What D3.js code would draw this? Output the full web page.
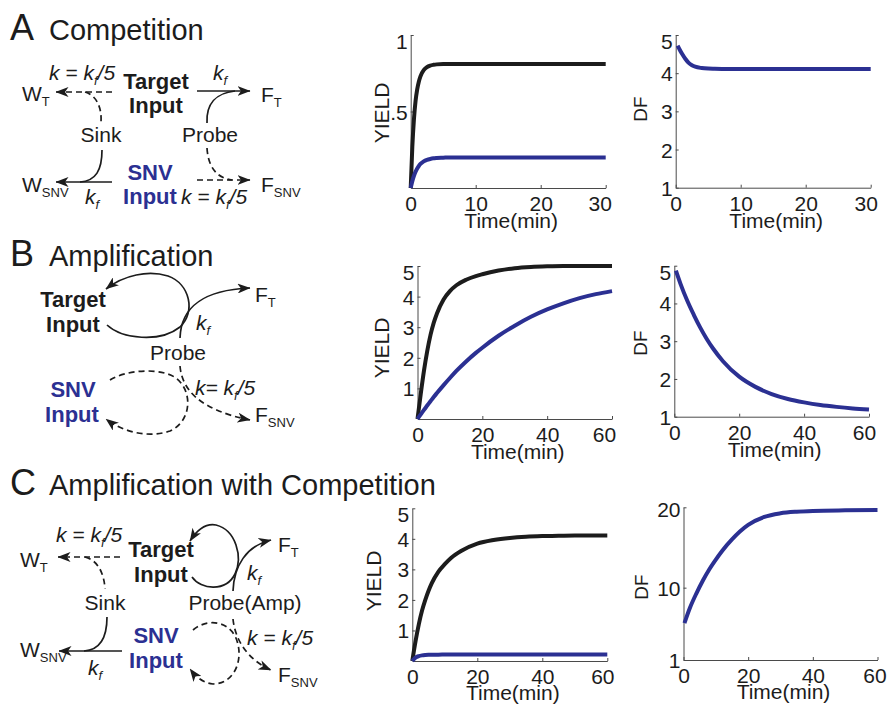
<!DOCTYPE html>
<html>
<head>
<meta charset="utf-8">
<script src="https://cdn.jsdelivr.net/npm/d3@7"></script>
<style>
  html, body { margin: 0; padding: 0; background: #fff; }
  svg { display: block; font-family: "Liberation Sans", Arial, Helvetica, sans-serif; }
</style>
</head>
<body>
<svg id="fig" width="890" height="704"></svg>
<script>
// ---------------- data ----------------
// A: competition (0-30 min)
const timeCompetition = [0, 0.25, 0.5, 0.75, 1, 1.25, 1.5, 2, 2.5, 3, 3.5, 4, 5, 6, 8, 10, 15, 20, 25, 30];
const yieldTargetCompetition = [0, 0.27, 0.45, 0.57, 0.645, 0.695, 0.73, 0.77, 0.79, 0.80, 0.805, 0.808, 0.81, 0.81, 0.81, 0.81, 0.81, 0.81, 0.81, 0.81];
const yieldSnvCompetition = [0, 0.045, 0.08, 0.107, 0.128, 0.144, 0.157, 0.174, 0.184, 0.19, 0.194, 0.196, 0.198, 0.2, 0.2, 0.2, 0.2, 0.2, 0.2, 0.2];
const timeDfCompetition = [0.3, 0.6, 1, 1.5, 2, 2.5, 3, 4, 5, 6, 8, 10, 15, 20, 25, 30];
const dfCompetition = [4.72, 4.62, 4.5, 4.37, 4.27, 4.21, 4.17, 4.135, 4.12, 4.115, 4.11, 4.11, 4.11, 4.11, 4.11, 4.11];

// B: amplification (0-60 min)
const timeAmplification = [0, 1, 2, 3, 4, 5, 6, 8, 10, 12, 15, 18, 20, 25, 30, 35, 40, 45, 50, 55, 60];
const yieldTargetAmplification = [0, 0.82, 1.58, 2.22, 2.74, 3.14, 3.45, 3.9, 4.18, 4.37, 4.55, 4.67, 4.73, 4.85, 4.93, 4.97, 4.99, 5.0, 5.0, 5.0, 5.0];
const yieldSnvAmplification = [0, 0.15, 0.3, 0.44, 0.58, 0.72, 0.85, 1.1, 1.34, 1.57, 1.88, 2.16, 2.33, 2.72, 3.05, 3.34, 3.58, 3.78, 3.95, 4.08, 4.18];
const timeDfAmplification = [0.5, 2, 4, 6, 8, 10, 12, 15, 20, 25, 30, 35, 40, 45, 50, 55, 60];
const dfAmplification = [4.87, 4.5, 4.07, 3.7, 3.36, 3.06, 2.8, 2.47, 2.06, 1.79, 1.6, 1.47, 1.38, 1.31, 1.26, 1.22, 1.19];

// C: amplification with competition (0-60 min)
const timeAmpCompetition = [0, 0.5, 1, 2, 3, 4, 5, 6, 8, 10, 12, 15, 20, 25, 30, 35, 40, 45, 50, 55, 60];
const yieldTargetAmpCompetition = [0, 0.34, 0.65, 1.2, 1.65, 2.0, 2.3, 2.55, 2.92, 3.17, 3.38, 3.6, 3.84, 3.96, 4.03, 4.07, 4.09, 4.1, 4.11, 4.11, 4.11];
const yieldSnvAmpCompetition = [0, 0.06, 0.11, 0.16, 0.185, 0.197, 0.203, 0.206, 0.208, 0.21, 0.21, 0.21, 0.21, 0.21, 0.21, 0.21, 0.21, 0.21, 0.21, 0.21, 0.21];
const timeDfAmpCompetition = [0.3, 2, 4, 6, 8, 10, 12, 15, 20, 25, 30, 35, 40, 50, 60];
const dfAmpCompetition = [5.6, 7.5, 9.3, 10.9, 12.3, 13.5, 14.6, 16.0, 17.8, 18.8, 19.25, 19.45, 19.55, 19.62, 19.65];

// axis ticks and labels
const timeTicks30 = [0, 10, 20, 30];
const timeTicks60 = [0, 20, 40, 60];
const yieldTicksCompetition = [0.5, 1];
const yieldTickLabelsCompetition = [".5", "1"];
const yieldTicks5 = [1, 2, 3, 4, 5];
const dfTicks5 = [1, 2, 3, 4, 5];
const dfTicksAmpCompetition = [1, 10, 20];

// ---------------- styles ----------------
const INK = "#1c1c1c";
const BLUE = "#2b3092";
const AXIS = "#4a4a4a";

const svg = d3.select("#fig");

// ---------------- plots ----------------
const plots = [
  { left: 410.7, right: 605.7, top: 35, bottom: 188,
    xDomain: [0, 30], yDomain: [0, 1], xTicks: timeTicks30, yTicks: yieldTicksCompetition,
    yFormat: (d, i) => yieldTickLabelsCompetition[i], yLabel: "YIELD", yLabelAt: [389, 113], ySize: 21,
    series: [[timeCompetition, yieldTargetCompetition, INK], [timeCompetition, yieldSnvCompetition, BLUE]],
    topShift: 6, lastShift: -6, titleDy: 40 },
  { left: 675.7, right: 870.7, top: 35, bottom: 187.7,
    xDomain: [0, 30], yDomain: [1, 5], xTicks: timeTicks30, yTicks: dfTicks5,
    yFormat: d3.format("d"), yLabel: "DF", yLabelAt: [647, 109], ySize: 19,
    series: [[timeDfCompetition, dfCompetition, BLUE]],
    topShift: 6, lastShift: -5, titleDy: 40 },
  { left: 417.5, right: 612, top: 266, bottom: 419,
    xDomain: [0, 60], yDomain: [0, 5], xTicks: timeTicks60, yTicks: yieldTicks5,
    yFormat: d3.format("d"), yLabel: "YIELD", yLabelAt: [389, 348], ySize: 21,
    series: [[timeAmplification, yieldTargetAmplification, INK], [timeAmplification, yieldSnvAmplification, BLUE]],
    topShift: 6, lastShift: -8, titleDy: 40 },
  { left: 674.3, right: 869, top: 265.7, bottom: 416.7,
    xDomain: [0, 60], yDomain: [1, 5], xTicks: timeTicks60, yTicks: dfTicks5,
    yFormat: d3.format("d"), yLabel: "DF", yLabelAt: [647, 343], ySize: 19,
    series: [[timeDfAmplification, dfAmplification, BLUE]],
    topShift: 6, lastShift: -5, titleDy: 40 },
  { left: 412.3, right: 607.3, top: 508.3, bottom: 661,
    xDomain: [0, 60], yDomain: [0, 5], xTicks: timeTicks60, yTicks: yieldTicks5,
    yFormat: d3.format("d"), yLabel: "YIELD", yLabelAt: [381, 581], ySize: 21,
    series: [[timeAmpCompetition, yieldTargetAmpCompetition, INK], [timeAmpCompetition, yieldSnvAmpCompetition, BLUE]],
    topShift: 6, lastShift: -5, titleDy: 39 },
  { left: 683.5, right: 877.5, top: 507.3, bottom: 660,
    xDomain: [0, 60], yDomain: [1, 20], xTicks: timeTicks60, yTicks: dfTicksAmpCompetition,
    yFormat: d3.format("d"), yLabel: "DF", yLabelAt: [648, 587], ySize: 19,
    series: [[timeDfAmpCompetition, dfAmpCompetition, BLUE]],
    topShift: 2, lastShift: -3, titleDy: 39 }
];

plots.forEach(p => {
  const x = d3.scaleLinear().domain(p.xDomain).range([p.left, p.right]);
  const y = d3.scaleLinear().domain(p.yDomain).range([p.bottom, p.top]);
  const g = svg.append("g");

  const xAxis = g.append("g")
    .attr("transform", `translate(0,${p.bottom})`)
    .call(d3.axisBottom(x).tickValues(p.xTicks).tickSizeInner(-3).tickSizeOuter(0)
      .tickPadding(8).tickFormat(d3.format("d")));
  xAxis.selectAll("text").attr("dy", "0.71em")
    .attr("dx", (d, i) => i === p.xTicks.length - 1 ? p.lastShift : 0);

  const yAxis = g.append("g")
    .attr("transform", `translate(${p.left},0)`)
    .call(d3.axisLeft(y).tickValues(p.yTicks).tickSizeInner(-3).tickSizeOuter(0)
      .tickPadding(3).tickFormat(p.yFormat));
  yAxis.selectAll("text")
    .attr("dy", (d, i) => (i === p.yTicks.length - 1 ? p.topShift : 0) + 7.5);

  [xAxis, yAxis].forEach(a => {
    a.attr("font-family", null).attr("font-size", null);
    a.select(".domain").attr("stroke", AXIS).attr("stroke-width", 1);
    a.selectAll(".tick line").attr("stroke", AXIS).attr("stroke-width", 1);
    a.selectAll(".tick text").attr("fill", INK).style("font-size", "21px");
  });

  const line = d3.line().x(d => x(d[0])).y(d => y(d[1])).curve(d3.curveMonotoneX);
  p.series.forEach(([t, v, color]) => {
    g.append("path")
      .datum(d3.zip(t, v))
      .attr("d", line)
      .attr("fill", "none")
      .attr("stroke", color)
      .attr("stroke-width", 4)
      .attr("stroke-linejoin", "round");
  });

  g.append("text")
    .attr("transform", `translate(${p.yLabelAt[0]},${p.yLabelAt[1]}) rotate(-90)`)
    .attr("text-anchor", "middle")
    .attr("fill", INK)
    .style("font-size", p.ySize + "px")
    .text(p.yLabel);

  g.append("text")
    .attr("x", (p.left + p.right) / 2 + 3)
    .attr("y", p.bottom + p.titleDy)
    .attr("text-anchor", "middle")
    .attr("fill", INK)
    .style("font-size", "21px")
    .text("Time(min)");
});

// ---------------- reaction schemes ----------------
const defs = svg.append("defs");
defs.append("marker")
  .attr("id", "head")
  .attr("viewBox", "0 0 13 10")
  .attr("refX", 12.5).attr("refY", 5)
  .attr("markerWidth", 13).attr("markerHeight", 10)
  .attr("markerUnits", "userSpaceOnUse")
  .attr("orient", "auto")
  .append("path")
  .attr("d", "M0,0 L13,5 L0,10 L3.5,5 Z")
  .attr("fill", INK);

// panel headings
const headings = [
  { letter: "A", title: "Competition", y: 40 },
  { letter: "B", title: "Amplification", y: 266 },
  { letter: "C", title: "Amplification with Competition", y: 495 }
];
headings.forEach(h => {
  svg.append("text").attr("x", 10).attr("y", h.y).attr("fill", INK)
    .style("font-size", "36px").text(h.letter);
  svg.append("text").attr("x", 49).attr("y", h.y).attr("fill", INK)
    .style("font-size", "29px").text(h.title);
});

// connectors: d = path, dash = dashed stroke, arrow = arrowhead at the end
const connectors = [
  // A
  { d: "M112,92 L56,92", dash: true, arrow: true },
  { d: "M85,92 C96,95 102,107 101,122", dash: true },
  { d: "M102,150 C102,170 96,181 80,182" },
  { d: "M112,182 L56,182", arrow: true },
  { d: "M197,91 L250,91", arrow: true },
  { d: "M207,123 C206,104 216,93 235,91" },
  { d: "M207,148 C208,166 216,178 232,180", dash: true },
  { d: "M197,180 L250,180", dash: true, arrow: true },
  // B
  { d: "M107,325 C122,339 160,343 180,327 C196,312 190,284 168,276 C148,270 124,275 106,289", arrow: true },
  { d: "M180,338 C181,306 204,290 250,288", arrow: true },
  { d: "M110,380 C126,370 160,367 176,378 C193,391 192,421 170,431 C150,438 124,433 106,419", dash: true, arrow: true },
  { d: "M180,366 C182,390 200,410 250,420", dash: true, arrow: true },
  // C
  { d: "M120,557 L58,557", dash: true, arrow: true },
  { d: "M85,557 C97,560 104,572 105,589", dash: true },
  { d: "M107,617 C107,638 100,650 84,651" },
  { d: "M122,651 L59,651", arrow: true },
  { d: "M192,577 C201,590 226,592 235,574 C243,557 236,530 216,525 C205,523 197,530 190,541", arrow: true },
  { d: "M233,591 C234,566 246,546 271,540", arrow: true },
  { d: "M193,630 C206,619 226,620 235,636 C245,656 236,684 213,684 C203,683 196,677 190,669", dash: true, arrow: true },
  { d: "M233,619 C235,640 248,660 271,670", dash: true, arrow: true }
];
svg.append("g").selectAll("path").data(connectors).join("path")
  .attr("d", c => c.d)
  .attr("fill", "none")
  .attr("stroke", INK)
  .attr("stroke-width", 1.7)
  .attr("stroke-dasharray", c => c.dash ? "6,4" : null)
  .attr("marker-end", c => c.arrow ? "url(#head)" : null);

// labels: parts are [text, subscript?]
const labels = [
  // A
  { x: 49, y: 80, parts: [["k = k"], ["f", 1], ["/5"]], italic: true },
  { x: 156, y: 89, parts: [["Target"]], bold: true, anchor: "middle" },
  { x: 156, y: 113, parts: [["Input"]], bold: true, anchor: "middle" },
  { x: 22, y: 101, parts: [["W"], ["T", 1]] },
  { x: 101, y: 142, parts: [["Sink"]], anchor: "middle" },
  { x: 210, y: 142, parts: [["Probe"]], anchor: "middle" },
  { x: 213, y: 80, parts: [["k"], ["f", 1]], italic: true },
  { x: 261, y: 102, parts: [["F"], ["T", 1]] },
  { x: 22, y: 192, parts: [["W"], ["SNV", 1]] },
  { x: 85, y: 204, parts: [["k"], ["f", 1]], italic: true },
  { x: 150, y: 180, parts: [["SNV"]], bold: true, anchor: "middle", color: BLUE },
  { x: 150, y: 204, parts: [["Input"]], bold: true, anchor: "middle", color: BLUE },
  { x: 181, y: 204, parts: [["k = k"], ["f", 1], ["/5"]], italic: true },
  { x: 261, y: 192, parts: [["F"], ["SNV", 1]] },
  // B
  { x: 73, y: 307, parts: [["Target"]], bold: true, anchor: "middle" },
  { x: 73, y: 332, parts: [["Input"]], bold: true, anchor: "middle" },
  { x: 196, y: 330, parts: [["k"], ["f", 1]], italic: true },
  { x: 255, y: 302, parts: [["F"], ["T", 1]] },
  { x: 178, y: 360, parts: [["Probe"]], anchor: "middle" },
  { x: 73, y: 397, parts: [["SNV"]], bold: true, anchor: "middle", color: BLUE },
  { x: 72, y: 422, parts: [["Input"]], bold: true, anchor: "middle", color: BLUE },
  { x: 195, y: 395, parts: [["k= k"], ["f", 1], ["/5"]], italic: true },
  { x: 255, y: 422, parts: [["F"], ["SNV", 1]] },
  // C
  { x: 56, y: 542, parts: [["k = k"], ["f", 1], ["/5"]], italic: true },
  { x: 161, y: 557, parts: [["Target"]], bold: true, anchor: "middle" },
  { x: 161, y: 582, parts: [["Input"]], bold: true, anchor: "middle" },
  { x: 20, y: 567, parts: [["W"], ["T", 1]] },
  { x: 105, y: 610, parts: [["Sink"]], anchor: "middle" },
  { x: 278, y: 552, parts: [["F"], ["T", 1]] },
  { x: 247, y: 580, parts: [["k"], ["f", 1]], italic: true },
  { x: 245, y: 610, parts: [["Probe(Amp)"]], anchor: "middle" },
  { x: 156, y: 643, parts: [["SNV"]], bold: true, anchor: "middle", color: BLUE },
  { x: 156, y: 668, parts: [["Input"]], bold: true, anchor: "middle", color: BLUE },
  { x: 20, y: 657, parts: [["W"], ["SNV", 1]] },
  { x: 88, y: 675, parts: [["k"], ["f", 1]], italic: true },
  { x: 247, y: 645, parts: [["k = k"], ["f", 1], ["/5"]], italic: true },
  { x: 278, y: 682, parts: [["F"], ["SNV", 1]] }
];

labels.forEach(l => {
  const t = svg.append("text")
    .attr("x", l.x).attr("y", l.y)
    .attr("text-anchor", l.anchor || "start")
    .attr("fill", l.color || INK)
    .style("font-size", l.bold ? "22px" : "21px")
    .style("font-weight", l.bold ? "bold" : "normal")
    .style("font-style", l.italic ? "italic" : "normal");
  let lowered = false;
  l.parts.forEach(([s, sub]) => {
    const ts = t.append("tspan").text(s);
    if (sub && !lowered) { ts.attr("dy", 5).style("font-size", "13px"); lowered = true; }
    else if (!sub && lowered) { ts.attr("dy", -5); lowered = false; }
    else if (sub) { ts.style("font-size", "13px"); }
  });
});
</script>
</body>
</html>
